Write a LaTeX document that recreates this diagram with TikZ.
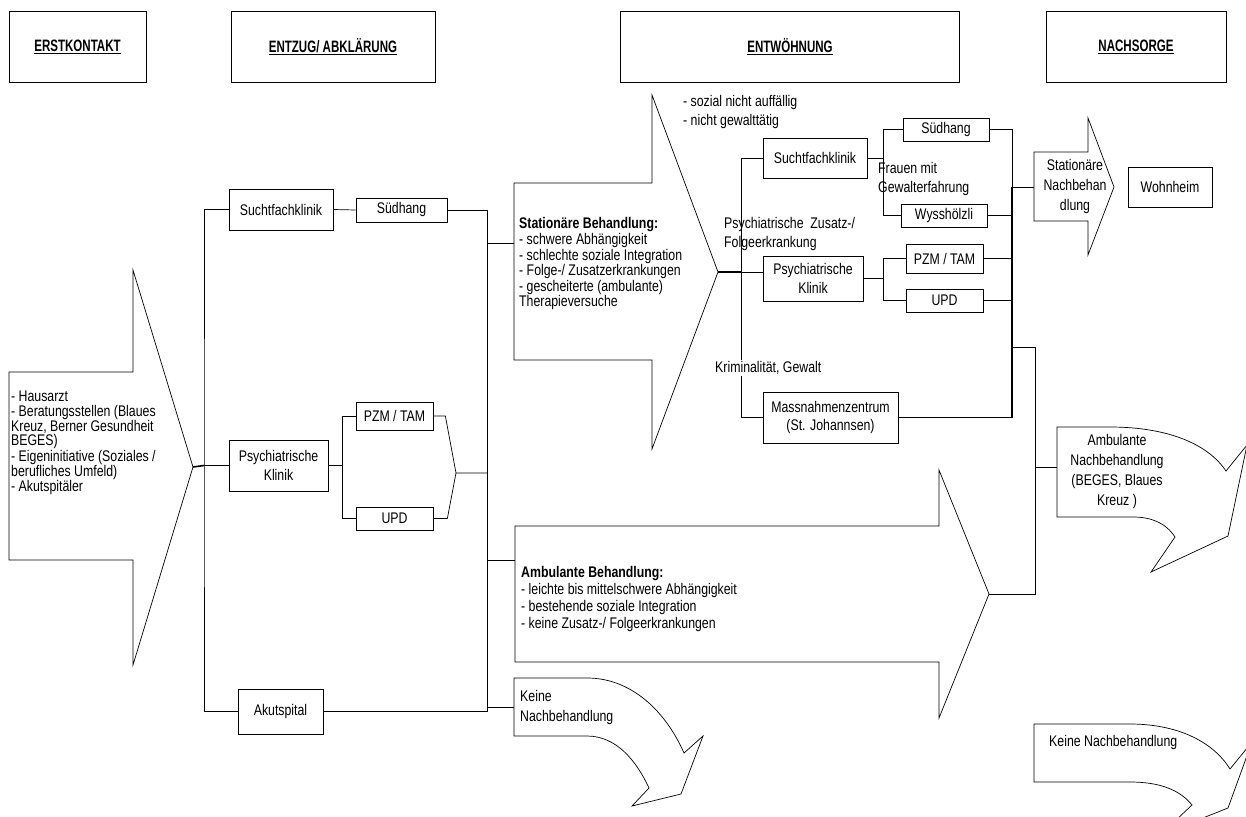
\documentclass[tikz,border=0pt]{standalone}
\usepackage{fontspec}
\setmainfont{Liberation Sans}[FakeStretch = 0.8]
\newfontfamily\headfont{Liberation Sans}[FakeStretch = 0.7]
\usetikzlibrary{calc}
\tikzset{
  box/.style = {draw, line width = 0.7pt, align = center, inner sep = 0pt, font = \fontsize{15.4}{18.5}\selectfont},
  head/.style = {draw, line width = 0.7pt, inner sep = 0pt, font = \headfont\fontsize{16.5}{18}\selectfont\bfseries},
  txt/.style = {align = left, anchor = west, inner sep = 0pt, font = \fontsize{15.4}{#1}\selectfont},
  txt/.default = 14.3,
  ctxt/.style = {align = center, inner sep = 0pt, font = \fontsize{15.4}{#1}\selectfont},
  ctxt/.default = 20,
  lin/.style = {line width = 0.7pt},
  fat/.style = {line width = 1.6pt}
}

\begin{document}
\begin{tikzpicture}[x = 1pt, y = -1pt]

\clip (0,0) rectangle (1246,816);
\fill[white] (0,0) rectangle (1246,816);

% column headers
\node[head, minimum width = 137, minimum height = 70.5] (hErst) at (77.5, 46.75) {\underline{ERSTKONTAKT}};
\node[head, minimum width = 204, minimum height = 70.5] (hEntz) at (333, 46.75) {\underline{ENTZUG/ ABKLÄRUNG}};
\node[head, minimum width = 339, minimum height = 70.5] (hEntw) at (790, 46.75) {\underline{ENTWÖHNUNG}};
\node[head, minimum width = 180, minimum height = 70.5] (hNach) at (1136, 46.75) {\underline{NACHSORGE}};

% block arrows
\draw[lin, fill = white] (9,372) -- (133,372) -- (133,270) -- (193,467) -- (133,665) -- (133,560) -- (9,560) -- cycle;
\coordinate (eTip) at (193,467);
\draw[lin, fill = white] (514,183) -- (652,183) -- (652,95) -- (718,272) -- (652,449) -- (652,360) -- (514,360) -- cycle;
\coordinate (sTip) at (718,272);
\draw[lin, fill = white] (515,526) -- (939,526) -- (939,470) -- (989,594) -- (939,718) -- (939,662) -- (515,662) -- cycle;
\coordinate (aTip) at (989,594);
\draw[lin, fill = white] (1034,152) -- (1088,152) -- (1088,118) -- (1114,187) -- (1088,255) -- (1088,221) -- (1034,221) -- cycle;

% curved arrows
\draw[lin, fill = white] (514,678) -- (587,678) .. controls (632,678) and (666,712) .. (684,753) -- (703,736) -- (681,794) -- (632,806) -- (649,788) .. controls (636,760) and (616,736) .. (587,736) -- (514,736) -- cycle;
\draw[lin, fill = white] (1057,427) -- (1110,427) .. controls (1160,427) and (1205,440) .. (1226,471) -- (1247,445) -- (1228,536) -- (1151,572) -- (1175,537) .. controls (1165,522) and (1150,517) .. (1133,517) -- (1057,517) -- cycle;
\draw[lin, fill = white] (1034,724) -- (1130,724) .. controls (1175,724) and (1212,740) .. (1230,769) -- (1252,742) -- (1228,808) -- (1160,835) -- (1192,805) .. controls (1180,790) and (1160,782) .. (1130,782) -- (1034,782) -- cycle;

% texts in the arrows
\node[txt] (eText) at (11,443) {- Hausarzt\\- Beratungsstellen (Blaues\\Kreuz, Berner Gesundheit\\BEGES)\\- Eigeninitiative (Soziales /\\berufliches Umfeld)\\- Akutspitäler};
\node[txt = 15.6] (sText) at (519,264) {\textbf{Stationäre Behandlung:}\\- schwere Abhängigkeit\\- schlechte soziale Integration\\- Folge-/ Zusatzerkrankungen\\- gescheiterte (ambulante)\\Therapieversuche};
\node[txt = 17] (aText) at (521,599) {\textbf{Ambulante Behandlung:}\\- leichte bis mittelschwere Abhängigkeit\\- bestehende soziale Integration\\- keine Zusatz-/ Folgeerkrankungen};
\node[txt = 20] (kText) at (520,708) {Keine\\Nachbehandlung};
\node[ctxt] (snText) at (1075,187) {Stationäre\\Nachbehan\\dlung};
\node[ctxt = 20] (anText) at (1117,472) {Ambulante\\Nachbehandlung\\(BEGES, Blaues\\Kreuz )};
\node[txt] (knText) at (1049,743) {Keine Nachbehandlung};

% entzug boxes
\node[box, minimum width = 104, minimum height = 41] (sfk1) at (281,209.5) {Suchtfachklinik};
\node[box, minimum width = 91, minimum height = 24] (suh1) at (401.5,210) {Südhang};
\node[box, minimum width = 99, minimum height = 51] (psy1) at (278.5,465.5) {Psychiatrische\\Klinik};
\node[box, minimum width = 77, minimum height = 28] (pzm1) at (394.5,416) {PZM / TAM};
\node[box, minimum width = 77, minimum height = 23] (upd1) at (394.5,518.5) {UPD};
\node[box, minimum width = 85, minimum height = 45] (akut) at (280.5,711.5) {Akutspital};

% entwoehnung boxes
\node[box, minimum width = 104, minimum height = 40] (sfk2) at (815,158) {Suchtfachklinik};
\node[box, minimum width = 86, minimum height = 23] (suh2) at (946,129.5) {Südhang};
\node[box, minimum width = 86, minimum height = 23] (wys) at (944,215.5) {Wysshölzli};
\node[box, minimum width = 100, minimum height = 45] (psy2) at (813,278.5) {Psychiatrische\\Klinik};
\node[box, minimum width = 77, minimum height = 29] (pzm2) at (944.5,258.5) {PZM / TAM};
\node[box, minimum width = 77, minimum height = 23] (upd2) at (944.5,300.5) {UPD};
\node[box, minimum width = 135, minimum height = 51] (mnz) at (830.5,417.5) {Massnahmenzentrum\\(St. Johannsen)};
\node[box, minimum width = 84, minimum height = 40] (wohn) at (1170,187) {Wohnheim};

% branch labels
\node[txt = 19] (crit) at (683,112.5) {- sozial nicht auffällig\\- nicht gewalttätig};
\node[txt = 19] (frau) at (878,179.5) {Frauen mit\\Gewalterfahrung};
\node[txt = 19] (pfolg) at (724,234.5) {Psychiatrische\ \ Zusatz-/\\Folgeerkrankung};

% left tree
\coordinate (lTr) at (204,465.5);
\draw[lin] (sfk1.west) -| (lTr) |- (akut.west);
\draw[lin] (lTr) -- (psy1.west);
\draw[fat] (eTip) -- (lTr);
\draw[lin] (sfk1.east) -- (suh1.west);
\draw[lin] (psy1.east) -- ++(14,0) coordinate (fk1);
\draw[lin] (pzm1.west) -| (fk1) |- (upd1.west);

% main trunk
\coordinate (mBot) at (487,711.5);
\coordinate (mg) at (456,473);
\draw[lin] (suh1.east) -| (mBot) -- (akut.east);
\draw[lin] (pzm1.east) -- ++(12,0) -- (mg) -- (mg -| mBot);
\draw[lin] (upd1.east) -- ++(14,0) -- (mg);
\coordinate (statIn) at (514,243);
\coordinate (ambIn) at (515,560);
\coordinate (kneIn) at (514,707);
\draw[lin] (statIn -| mBot) -- (statIn);
\draw[lin] (ambIn -| mBot) -- (ambIn);
\draw[lin] (kneIn -| mBot) -- (kneIn);

% right tree
\coordinate (rTr) at (741,272);
\draw[fat] (sTip) -- (rTr);
\draw[lin] (rTr) -- (rTr -| psy2.west);
\draw[lin] (sfk2.west) -| (rTr) |- (mnz.west);
\draw[lin] (sfk2.east) -- ++(16,0) coordinate (fk2);
\draw[lin] (suh2.west) -| (fk2) |- (wys.west);
\draw[lin] (psy2.east) -- ++(20,0) coordinate (fk3);
\draw[lin] (pzm2.west) -| (fk3) |- (upd2.west);
\node[txt, fill = white, inner sep = 1pt] (krim) at (714,368) {Kriminalität, Gewalt};

% bus to nachsorge
\coordinate (rBus) at (1012,187);
\coordinate (snIn) at (1034,187);
\draw[lin] (suh2.east) -| (rBus);
\draw[fat] (rBus) -- (rBus |- mnz.east);
\draw[lin] (mnz.east) -- (rBus |- mnz.east);
\draw[lin] (wys.east) -- (wys.east -| rBus);
\draw[lin] (pzm2.east) -- (pzm2.east -| rBus);
\draw[lin] (upd2.east) -- (upd2.east -| rBus);
\draw[lin] (rBus) -- (snIn);

% ambulant branch
\coordinate (aBus) at (1035,347);
\coordinate (anIn) at (1057,467);
\draw[lin] (aTip) -| (aBus) -- (aBus -| rBus);
\draw[lin] (anIn -| aBus) -- (anIn);

\end{tikzpicture}
\end{document}
